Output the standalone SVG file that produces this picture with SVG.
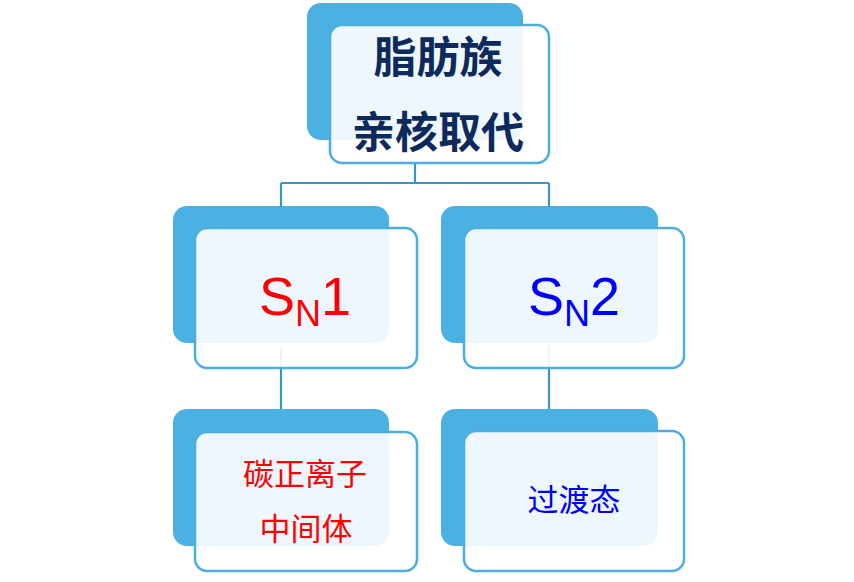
<svg xmlns="http://www.w3.org/2000/svg" width="854" height="582" viewBox="0 0 854 582">
<style>
.back{fill:#4BB1E3}
.front{fill:#FFFFFF;fill-opacity:0.9;stroke:#4BAEE0;stroke-width:2.5}
.conn{fill:none;stroke:#3A94C6;stroke-width:2.2}
.title{font-family:"Noto Sans CJK SC","Noto Sans",sans-serif;font-weight:bold;font-size:43px;fill:#0E2A5C;text-anchor:middle}
.sn{font-family:"Liberation Sans",Arial,sans-serif;font-size:54px}
.sub{font-size:36px}
.cjk{font-family:"Noto Sans CJK SC","Noto Sans",sans-serif;font-size:31px;text-anchor:middle}
.red{fill:#FF0000}
.blue{fill:#0000FF}
</style>
<rect width="854" height="582" fill="#FFFFFF"/>
<g id="backs">
<rect class="back" x="307" y="3" width="216" height="137" rx="14"/>
<rect class="back" x="173" y="206" width="216" height="137" rx="14"/>
<rect class="back" x="441" y="206" width="217" height="137" rx="14"/>
<rect class="back" x="173" y="409" width="216" height="137" rx="14"/>
<rect class="back" x="441" y="409" width="217" height="137" rx="14"/>
</g>
<g id="connectors">
<path class="conn" d="M415,164 V183 M281,183 H549 M281,183 V207 M549,183 V207"/>
<path class="conn" d="M281,346 V409 M549,346 V409"/>
</g>
<g id="node-top">
<rect class="front" x="330" y="25" width="219" height="138" rx="12"/>
<text class="title" x="438" y="73">脂肪族</text>
<text class="title" x="438" y="148">亲核取代</text>
</g>
<g id="node-sn1">
<rect class="front" x="195" y="228" width="222" height="140" rx="12"/>
<text class="sn red" x="259" y="315">S<tspan class="sub" dy="11">N</tspan><tspan dy="-11">1</tspan></text>
</g>
<g id="node-sn2">
<rect class="front" x="464" y="228" width="220" height="140" rx="12"/>
<text class="sn blue" x="528" y="315">S<tspan class="sub" dy="11">N</tspan><tspan dy="-11">2</tspan></text>
</g>
<g id="node-carbocation">
<rect class="front" x="195" y="432" width="222" height="139" rx="12"/>
<text class="cjk red" x="305" y="485">碳正离子</text>
<text class="cjk red" x="306" y="540">中间体</text>
</g>
<g id="node-ts">
<rect class="front" x="464" y="431" width="220" height="140" rx="12"/>
<text class="cjk blue" x="574" y="511">过渡态</text>
</g>
</svg>
